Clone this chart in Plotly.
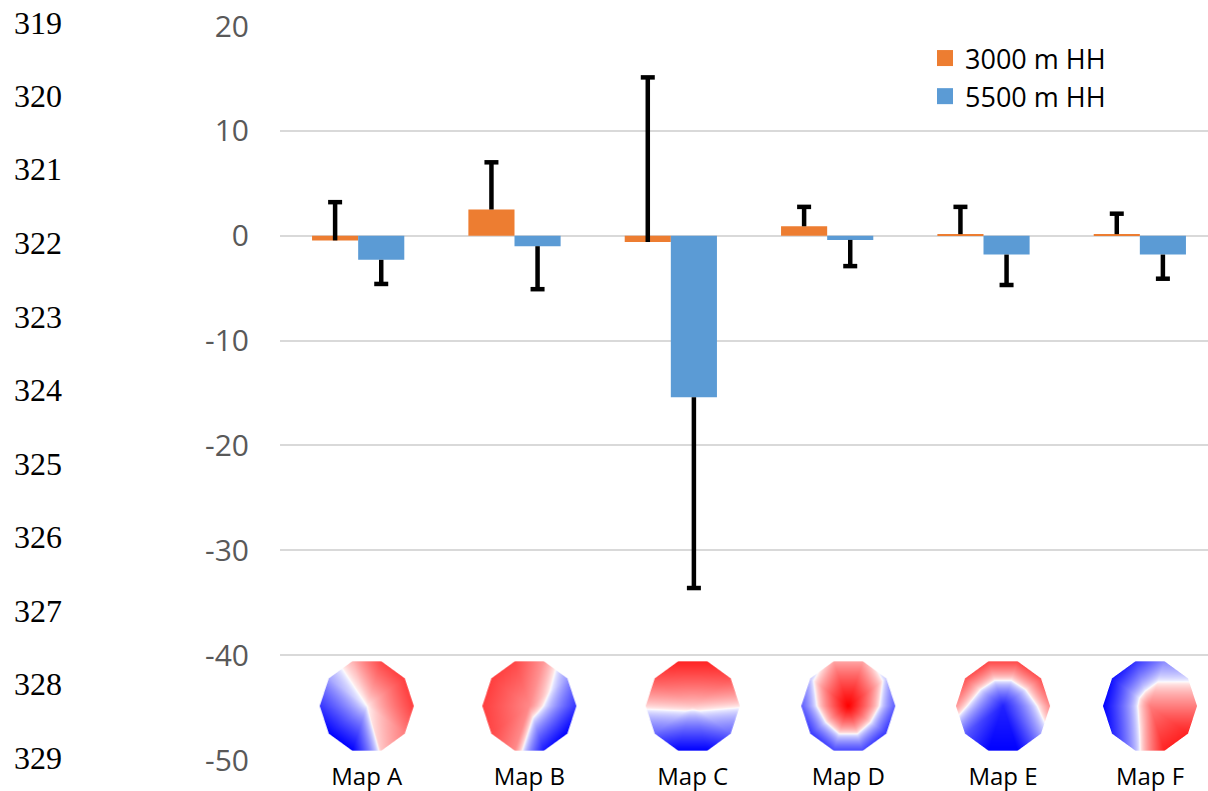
import base64
import struct
import zlib

import numpy as np
import plotly.graph_objects as go

# ---- data -------------------------------------------------------------
categories = ["Map A", "Map B", "Map C", "Map D", "Map E", "Map F"]
series_names = ["3000 m HH", "5500 m HH"]

mean_3000 = [-0.45, 2.5, -0.6, 0.9, 0.15, 0.15]
err_3000 = [3.65, 4.5, 15.7, 1.85, 2.6, 1.95]      # drawn upward
mean_5500 = [-2.3, -1.0, -15.4, -0.4, -1.8, -1.8]
err_5500 = [2.3, 4.1, 18.2, 2.5, 2.9, 2.3]         # drawn downward

y_ticks = [-50, -40, -30, -20, -10, 0, 10, 20]
y_tick_text = ["-50", "-40", "-30", "-20", "-10", "0", "10", "20"]
line_numbers = list(range(319, 330))

# electrode values for the topographic maps: ten rim electrodes
# (starting at the right, counter-clockwise) followed by the centre one
topo_rim = {
    "Map A": [0.65, 0.65, 0.6, 0.15, -0.2, -0.7, -1.0, -1.0, 0.1, 0.35],
    "Map B": [-0.7, -0.25, 0.25, 0.6, 0.65, 0.65, 0.6, 0.3, -0.85, -1.0],
    "Map C": [0.03, 0.55, 0.8, 0.8, 0.55, 0.06, -0.45, -1.0, -1.0, -0.45],
    "Map D": [-0.5, -0.1, 0.2, 0.2, -0.1, -0.5, -0.7, -0.6, -0.6, -0.7],
    "Map E": [0.3, 0.55, 0.6, 0.6, 0.55, 0.25, -0.5, -1.0, -1.0, -0.2],
    "Map F": [0.35, -0.05, -0.3, -0.7, -0.9, -1.0, -0.8, -0.15, 0.8, 0.8],
}
topo_centre = {"Map A": 0.0, "Map B": 0.3, "Map C": 0.1,
               "Map D": 1.0, "Map E": -0.8, "Map F": 0.35}

# ---- styling ----------------------------------------------------------
ORANGE = "#ED7D31"
BLUE = "#5B9BD5"
W, H = 1208, 791
M_L, M_R, M_T, M_B = 280, 0, 26, 31
BAR_W = 0.295
label_shift = [0.055, 0.095, 0.14, 0.135, 0.125, 0.065]
X_RANGE = [-0.5, 5.5 - 10 / 156.3]
Y_RANGE = [-50, 20]
TOPO_GAMMA = 0.65


def topo_png(rim, centre, width=94, height=90, ss=3):
    """Render a decagon scalp map (piecewise-linear between electrodes)."""
    R = width / 2.0
    cy = height / 2.0
    ang = np.deg2rad(np.arange(10) * 36.0)
    vx, vy = R * np.cos(ang), R * np.sin(ang)
    rim = np.asarray(rim, float)

    n_w, n_h = width * ss, height * ss
    px = (np.arange(n_w) + 0.5) / ss - R
    py = cy - (np.arange(n_h) + 0.5) / ss
    X, Y = np.meshgrid(px, py)
    theta = np.mod(np.arctan2(Y, X), 2 * np.pi)
    k = np.floor(theta / np.deg2rad(36.0)).astype(int) % 10
    k1 = (k + 1) % 10
    ax_, ay_ = vx[k], vy[k]
    bx_, by_ = vx[k1], vy[k1]
    det = ax_ * by_ - bx_ * ay_
    a = (X * by_ - bx_ * Y) / det
    b = (ax_ * Y - X * ay_) / det
    inside = (a + b) <= 1.0
    val = (1 - a - b) * centre + a * rim[k] + b * rim[k1]
    val = np.clip(val, -1, 1)
    val = np.sign(val) * np.abs(val) ** TOPO_GAMMA

    r = np.where(val >= 0, 1.0, 1.0 + val)
    g = np.where(val >= 0, 1.0 - val, 1.0 + val)
    bl = np.where(val >= 0, 1.0 - val, 1.0)
    rgb = np.stack([r, g, bl], axis=-1) * inside[..., None]
    rgb = rgb.reshape(height, ss, width, ss, 3).sum(axis=(1, 3))
    cov = inside.reshape(height, ss, width, ss).sum(axis=(1, 3))
    col = np.where(cov[..., None] > 0, rgb / np.maximum(cov, 1)[..., None], 1.0)
    alpha = cov / (ss * ss)
    rgba = np.concatenate([col, alpha[..., None]], axis=-1)
    rgba = (np.clip(rgba, 0, 1) * 255).round().astype(np.uint8)

    raw = b"".join(b"\x00" + rgba[i].tobytes() for i in range(height))

    def chunk(tag, data):
        return (struct.pack(">I", len(data)) + tag + data
                + struct.pack(">I", zlib.crc32(tag + data) & 0xFFFFFFFF))

    png = (b"\x89PNG\r\n\x1a\n"
           + chunk(b"IHDR", struct.pack(">IIBBBBB", width, height, 8, 6, 0, 0, 0))
           + chunk(b"IDAT", zlib.compress(raw, 9))
           + chunk(b"IEND", b""))
    return "data:image/png;base64," + base64.b64encode(png).decode()


x_idx = np.arange(len(categories))
x_3000 = x_idx - BAR_W / 2
x_5500 = x_idx + BAR_W / 2
zeros = [0] * len(categories)

fig = go.Figure()
fig.add_trace(go.Bar(
    x=x_3000, y=mean_3000, width=BAR_W, name=series_names[0],
    legendgroup="s3000", showlegend=False,
    marker=dict(color=ORANGE, line=dict(width=0)),
    error_y=dict(type="data", symmetric=False, array=err_3000,
                 arrayminus=zeros, color="black", thickness=4.5, width=0),
))
fig.add_trace(go.Bar(
    x=x_5500, y=mean_5500, width=BAR_W, name=series_names[1],
    legendgroup="s5500", showlegend=False,
    marker=dict(color=BLUE, line=dict(width=0)),
    error_y=dict(type="data", symmetric=False, array=zeros,
                 arrayminus=err_5500, color="black", thickness=4.5, width=0),
))

# end caps at the far end of each error bar
cap_3000 = [m + e for m, e in zip(mean_3000, err_3000)]
cap_5500 = [m - e for m, e in zip(mean_5500, err_5500)]
for xs, ys in ((x_3000, cap_3000), (x_5500, cap_5500)):
    fig.add_trace(go.Scatter(
        x=xs, y=ys, mode="markers", showlegend=False, hoverinfo="skip",
        marker=dict(symbol="line-ew", size=10,
                    line=dict(color="black", width=4.5)),
    ))

# legend entries with larger square swatches
for name, color, grp in ((series_names[0], ORANGE, "s3000"),
                         (series_names[1], BLUE, "s5500")):
    fig.add_trace(go.Scatter(
        x=[None], y=[None], mode="markers", name=name, legendgroup=grp,
        marker=dict(symbol="square", size=16, color=color,
                    line=dict(width=0)),
    ))

# topographic maps sitting inside the bottom of the plot area
px_per_x = (W - M_L - M_R) / (X_RANGE[1] - X_RANGE[0])
px_per_y = (H - M_T - M_B) / (Y_RANGE[1] - Y_RANGE[0])
images = []
for i, name in enumerate(categories):
    images.append(dict(
        source=topo_png(topo_rim[name], topo_centre[name]),
        xref="x", yref="y", x=i + label_shift[i], y=-44.85,
        xanchor="center", yanchor="middle",
        sizex=94 / px_per_x, sizey=90 / px_per_y,
        sizing="stretch", layer="above",
    ))

# manuscript line numbers in the left margin
plot_h = H - M_T - M_B
annotations = []
for j, num in enumerate(line_numbers):
    py = 22.5 + 73.5 * j
    annotations.append(dict(
        text=str(num), xref="paper", yref="paper",
        x=(12 - M_L) / (W - M_L - M_R), y=(H - M_B - py) / plot_h,
        xanchor="left", yanchor="middle", showarrow=False,
        font=dict(family="Liberation Serif", size=32, color="black"),
    ))

fig.update_layout(
    width=W, height=H,
    margin=dict(l=M_L, r=M_R, t=M_T, b=M_B, pad=0),
    paper_bgcolor="white", plot_bgcolor="white",
    barmode="overlay",
    showlegend=True,
    legend=dict(
        x=(925 - M_L) / (W - M_L - M_R), y=(H - M_B - 34) / plot_h,
        xanchor="left", yanchor="top",
        font=dict(family="Open Sans", size=27, color="black"),
        bgcolor="rgba(0,0,0,0)", tracegroupgap=0, itemsizing="trace",
    ),
    xaxis=dict(
        range=X_RANGE, showgrid=False, zeroline=False, showline=False,
        tickmode="array", tickvals=list(x_idx + np.array(label_shift)),
        ticktext=categories, ticks="",
        tickfont=dict(family="Open Sans", size=24, color="black"),
        fixedrange=True,
    ),
    yaxis=dict(
        range=Y_RANGE, tickmode="array", tickvals=y_ticks,
        ticktext=y_tick_text,
        showgrid=True, gridcolor="#D9D9D9", gridwidth=1.5,
        zeroline=True, zerolinecolor="#D9D9D9", zerolinewidth=1.5,
        showline=False, ticks="", ticklabelstandoff=30,
        tickfont=dict(family="Open Sans", size=30, color="#595959"),
        fixedrange=True,
    ),
    images=images,
    annotations=annotations,
)

fig.write_html("out.html")
